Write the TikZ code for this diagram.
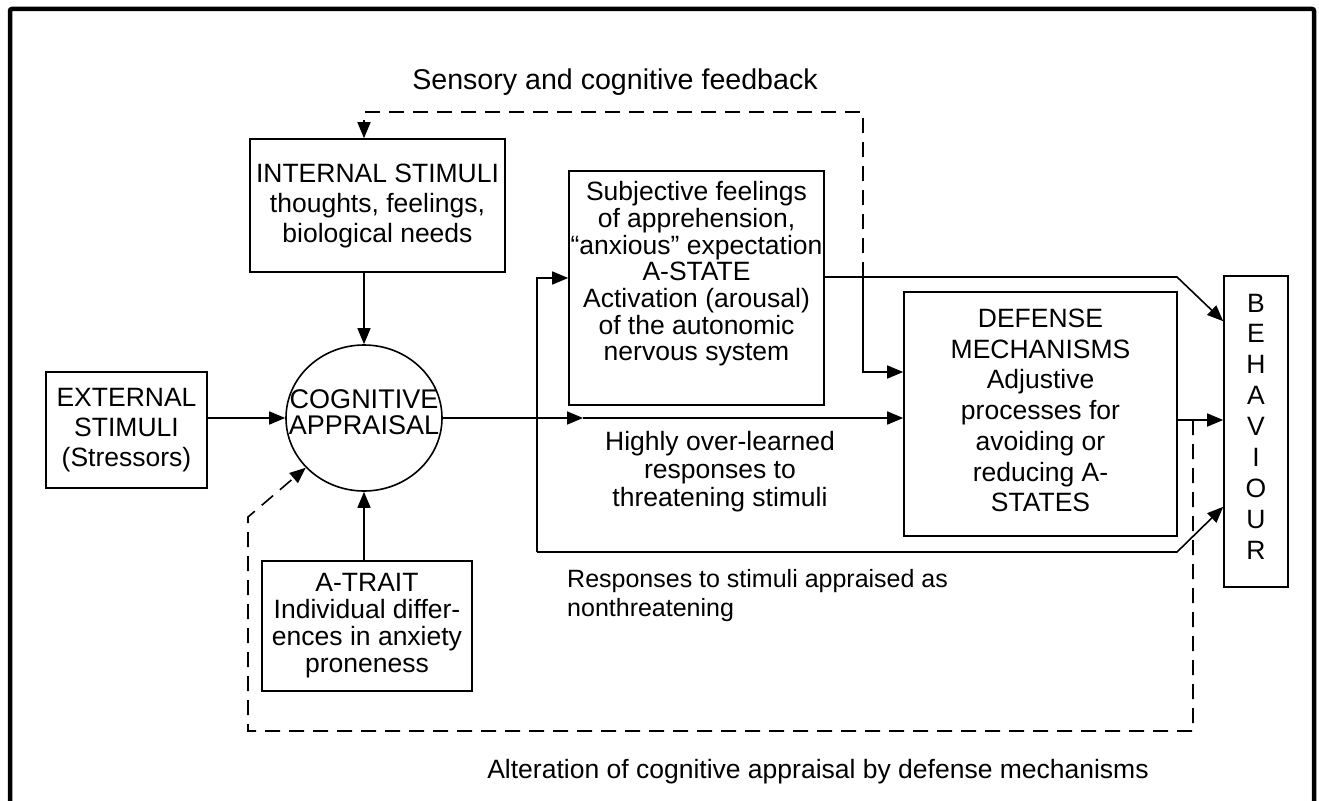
\documentclass[tikz,border=0pt]{standalone}
\usepackage{fontspec}
\setmainfont{Liberation Sans}
\usetikzlibrary{arrows.meta,shapes.geometric,calc}
\begin{document}
\begin{tikzpicture}[x=1pt,y=-1pt,
 ln/.style={line width=1.6pt},
 arr/.style={ln,-{Triangle[length=16pt,width=13pt]}},
 dsh/.style={dash pattern=on 15pt off 9pt},
 bx/.style={draw,ln,inner sep=0pt,align=center,font=\fontsize{26.5}{30}\selectfont},
 txt/.style={inner sep=0pt,align=center},
 lbl/.style={inner sep=0pt,font=\fontsize{26.5}{28}\selectfont}]
\useasboundingbox (0,0) rectangle (1319,800);
\draw[line width=4.5pt,rounded corners=2pt] (10,806) -- (10,9) -- (1314,9) -- (1314,806);

\node[bx,minimum width=255pt,minimum height=133pt] (int) at (377.5,205.5) {INTERNAL STIMULI\\thoughts, feelings,\\biological needs};
\node[bx,minimum width=161pt,minimum height=116pt] (ext) at (126.5,430) {EXTERNAL\\STIMULI\\(Stressors)};
\node[draw,ln,ellipse,minimum width=156pt,minimum height=146pt,inner sep=0pt] (cog) at (364,418) {};
\node[txt,font=\fontsize{27}{26}\selectfont] (cogtxt) at (364,412) {COGNITIVE\\APPRAISAL};
\node[bx,minimum width=210pt,minimum height=130pt,font=\fontsize{26.5}{27}\selectfont] (trait) at (367,626) {A-TRAIT\\Individual differ-\\ences in anxiety\\proneness};
\node[draw,ln,minimum width=255pt,minimum height=234pt,inner sep=0pt] (astate) at (696.5,288) {};
\node[txt,font=\fontsize{26.5}{26.7}\selectfont] (astatetxt) at (696.5,274) {Subjective feelings\\of apprehension,\\“anxious” expectation\\A-STATE\\Activation (arousal)\\of the autonomic\\nervous system};
\node[draw,ln,minimum width=273pt,minimum height=244pt,inner sep=0pt] (def) at (1040.5,414) {};
\node[txt,font=\fontsize{26.5}{30.7}\selectfont] (deftxt) at (1040.5,410.5) {DEFENSE\\MECHANISMS\\Adjustive\\processes for\\avoiding or\\reducing A-\\STATES};
\node[draw,ln,minimum width=64pt,minimum height=311pt,inner sep=0pt] (beh) at (1256,431.5) {};
\node[txt,font=\fontsize{26.5}{30.9}\selectfont] (behtxt) at (1256,426.5) {B\\E\\H\\A\\V\\I\\O\\U\\R};

\node[inner sep=0pt,font=\fontsize{28.6}{30}\selectfont] (fbl) at (615,82) {Sensory and cognitive feedback};
\node[lbl,align=center] (hol) at (720,472) {Highly over-learned\\responses to\\threatening stimuli};
\node[inner sep=0pt,align=left,anchor=west,font=\fontsize{25}{29}\selectfont] (rsl) at (567,596) {Responses to stimuli appraised as\\nonthreatening};
\node[lbl] (alt) at (818,772) {Alteration of cognitive appraisal by defense mechanisms};

\coordinate (j1) at (863,277);
\coordinate (j2) at (1177,277);
\coordinate (f1) at (863,112);
\coordinate (f2) at (364,112);
\coordinate (d1) at (863,372);
\coordinate (m1) at (583,418);
\coordinate (b1) at (537,278);
\coordinate (b2) at (537,552);
\coordinate (b3) at (1177,552);
\coordinate (j3) at (1193,420);
\coordinate (q1) at (1193,731);
\coordinate (q2) at (248,731);
\coordinate (q3) at (248,517);
\coordinate (e1) at ($(beh.north west)+(0,46)$);
\coordinate (e2) at ($(beh.south west)+(0,-81)$);

\draw[arr] (ext.east |- cog.west) -- (cog.west);
\draw[arr] (int.south -| cog.north) -- (cog.north);
\draw[arr] (trait.north -| cog.south) -- (cog.south);
\draw[arr] (cog.east) -- (m1);
\draw[arr] (m1) -- (m1 -| def.west);
\draw[arr] (b2) -- (b1) -- (b1 -| astate.west);
\draw[arr] (b2) -- (b3) -- (e2);
\draw[arr] (astate.east |- j1) -- (j2) -- (e1);
\draw[arr] (j1) -- (d1) -- (d1 -| def.west);
\draw[arr,dsh] (j1) -- (f1) -- (f2) -- (f2 |- int.north);
\draw[arr] (def.east |- j3) -- (j3 -| beh.west);
\draw[arr,dsh] (j3) -- (q1) -- (q2) -- (q3) -- (cog);
\end{tikzpicture}
\end{document}
